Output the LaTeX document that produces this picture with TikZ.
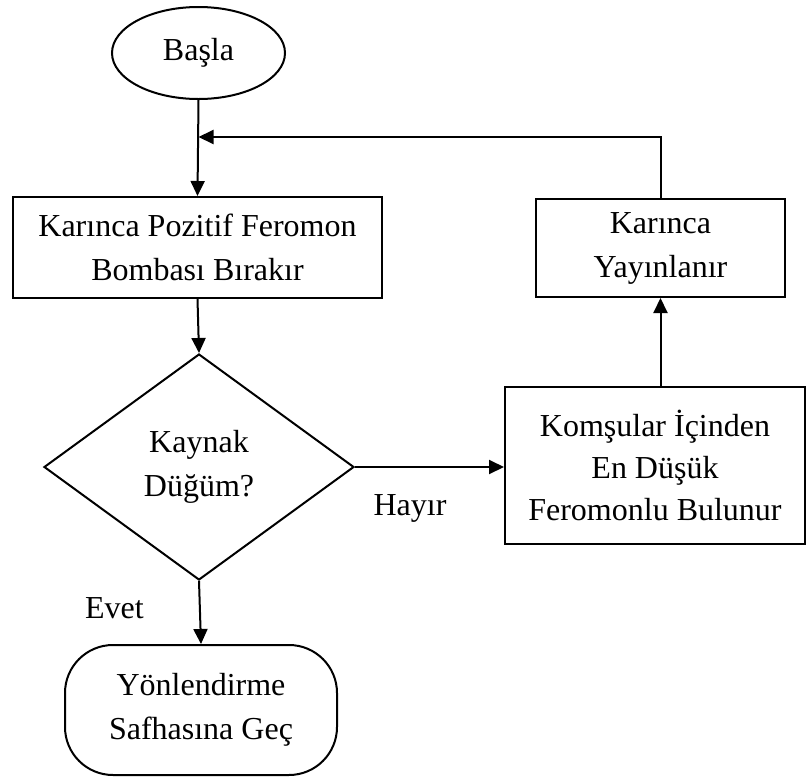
\documentclass[tikz,border=0pt]{standalone}
\usepackage{fontspec}
\setmainfont{Liberation Serif}
\usetikzlibrary{shapes.geometric,arrows.meta}
\begin{document}
\begin{tikzpicture}[x=1pt,y=-1pt,
  every node/.style={font=\fontsize{32}{44}\selectfont, align=center, inner sep=0pt},
  shp/.style={draw, line width=2pt},
  boxnode/.style={shp, rectangle},
  conn/.style={line width=2pt, -{Triangle[length=15pt,width=14pt]}}]
\useasboundingbox (0,0) rectangle (807,777);
\node[shp, ellipse, minimum width=173pt, minimum height=92pt] (start) at (198.5,53) {Başla};
\node[boxnode, minimum width=369pt, minimum height=101pt] (b1) at (197.5,247.5) {Karınca Pozitif Feromon\\Bombası Bırakır};
\node[shp, diamond, minimum width=310pt, minimum height=226pt] (d) at (199,467) {Kaynak\\Düğüm?};
\node[boxnode, minimum width=300pt, minimum height=157pt, font=\fontsize{32}{42}\selectfont] (b3) at (655,465.5) {Komşular İçinden\\En Düşük\\Feromonlu Bulunur};
\node[boxnode, minimum width=249pt, minimum height=98pt] (b2) at (660.5,248) {Karınca\\Yayınlanır};
\node[shp, rectangle, rounded corners=48pt, minimum width=272pt, minimum height=130pt] (end) at (201,710) {Yönlendirme\\Safhasına Geç};
\node[anchor=base] (hayir) at (410,515) {Hayır};
\node[anchor=base] (evet) at (114.5,618) {Evet};
\coordinate (j) at (198.5,137);
\draw[conn] (start.south) -- (b1.north);
\draw[conn] (b1.south) -- (d.north);
\draw[conn] (d.east) -- (d.east -| b3.west);
\draw[conn] (b2.south |- b3.north) -- (b2.south);
\draw[conn] (b2.north) |- (j);
\draw[conn] (d.south) -- (end.north);
\end{tikzpicture}
\end{document}
